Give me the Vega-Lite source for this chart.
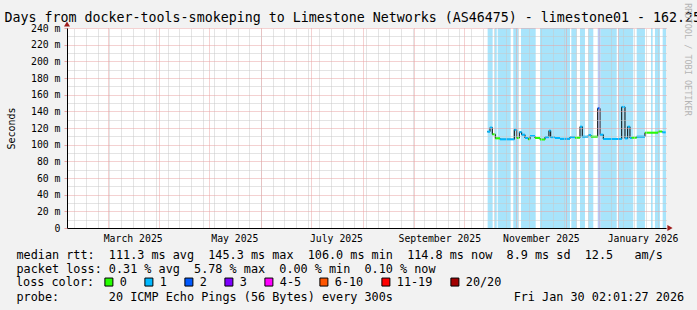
{
  "$schema": "https://vega.github.io/schema/vega-lite/v6.json",
  "width": 599,
  "height": 200,
  "autosize": {"type": "none"},
  "padding": {"left": 67, "top": 28, "right": 31, "bottom": 82},
  "background": "#f2f2f2",
  "config": {
    "view": {"fill": "white", "stroke": null},
    "font": "DejaVu Sans Mono",
    "axis": {"labelFont": "DejaVu Sans Mono", "titleFont": "DejaVu Sans Mono", "labelColor": "black", "titleColor": "black", "titleFontWeight": "normal"},
    "legend": {"labelFont": "DejaVu Sans Mono", "titleFont": "DejaVu Sans Mono"}
  },
  "datasets": {
    "median": [
      {"start": "2025-10-14T20:00", "end": "2025-10-16T11:00", "rtt": 115.6, "loss": "1"},
      {"start": "2025-10-16T11:00", "end": "2025-10-17T20:00", "rtt": 120.5, "loss": "1"},
      {"start": "2025-10-17T20:00", "end": "2025-10-19T15:00", "rtt": 112.4, "loss": "0"},
      {"start": "2025-10-19T15:00", "end": "2025-10-22T11:00", "rtt": 107.6, "loss": "0"},
      {"start": "2025-10-22T11:00", "end": "2025-10-31T01:00", "rtt": 106.4, "loss": "1"},
      {"start": "2025-10-31T01:00", "end": "2025-11-01T11:00", "rtt": 118.0, "loss": "1"},
      {"start": "2025-11-01T11:00", "end": "2025-11-03T01:00", "rtt": 108.0, "loss": "0"},
      {"start": "2025-11-03T01:00", "end": "2025-11-04T11:00", "rtt": 115.0, "loss": "1"},
      {"start": "2025-11-04T11:00", "end": "2025-11-06T11:00", "rtt": 112.0, "loss": "1"},
      {"start": "2025-11-06T11:00", "end": "2025-11-08T10:00", "rtt": 108.0, "loss": "1"},
      {"start": "2025-11-08T10:00", "end": "2025-11-09T11:00", "rtt": 106.4, "loss": "0"},
      {"start": "2025-11-09T11:00", "end": "2025-11-12T11:00", "rtt": 110.4, "loss": "1"},
      {"start": "2025-11-12T11:00", "end": "2025-11-15T11:00", "rtt": 108.0, "loss": "0"},
      {"start": "2025-11-15T11:00", "end": "2025-11-18T11:00", "rtt": 106.2, "loss": "0"},
      {"start": "2025-11-18T11:00", "end": "2025-11-20T20:00", "rtt": 109.0, "loss": "1"},
      {"start": "2025-11-20T20:00", "end": "2025-11-21T21:00", "rtt": 116.8, "loss": "1"},
      {"start": "2025-11-21T21:00", "end": "2025-11-24T11:00", "rtt": 109.0, "loss": "1"},
      {"start": "2025-11-24T11:00", "end": "2025-11-27T11:00", "rtt": 108.0, "loss": "1"},
      {"start": "2025-11-27T11:00", "end": "2025-12-03T11:00", "rtt": 107.0, "loss": "1"},
      {"start": "2025-12-03T11:00", "end": "2025-12-06T11:00", "rtt": 109.0, "loss": "1"},
      {"start": "2025-12-06T11:00", "end": "2025-12-09T11:00", "rtt": 108.4, "loss": "0"},
      {"start": "2025-12-09T11:00", "end": "2025-12-10T20:00", "rtt": 121.6, "loss": "1"},
      {"start": "2025-12-10T20:00", "end": "2025-12-14T11:00", "rtt": 109.6, "loss": "1"},
      {"start": "2025-12-14T11:00", "end": "2025-12-16T01:00", "rtt": 111.6, "loss": "1"},
      {"start": "2025-12-16T01:00", "end": "2025-12-20T02:00", "rtt": 109.6, "loss": "0"},
      {"start": "2025-12-20T02:00", "end": "2025-12-21T11:00", "rtt": 143.6, "loss": "2"},
      {"start": "2025-12-21T11:00", "end": "2025-12-23T11:00", "rtt": 112.0, "loss": "1"},
      {"start": "2025-12-23T11:00", "end": "2026-01-03T12:00", "rtt": 106.8, "loss": "1"},
      {"start": "2026-01-03T12:00", "end": "2026-01-05T11:00", "rtt": 145.3, "loss": "1"},
      {"start": "2026-01-05T11:00", "end": "2026-01-07T02:00", "rtt": 107.5, "loss": "1"},
      {"start": "2026-01-07T02:00", "end": "2026-01-08T11:00", "rtt": 121.6, "loss": "1"},
      {"start": "2026-01-08T11:00", "end": "2026-01-09T12:00", "rtt": 108.0, "loss": "1"},
      {"start": "2026-01-09T12:00", "end": "2026-01-12T12:00", "rtt": 108.4, "loss": "0"},
      {"start": "2026-01-12T12:00", "end": "2026-01-17T11:00", "rtt": 109.6, "loss": "1"},
      {"start": "2026-01-17T11:00", "end": "2026-01-25T11:00", "rtt": 114.4, "loss": "0"},
      {"start": "2026-01-25T11:00", "end": "2026-01-27T20:00", "rtt": 115.8, "loss": "0"},
      {"start": "2026-01-27T20:00", "end": "2026-01-29T22:00", "rtt": 114.8, "loss": "1"}
    ],
    "bands": [
      {"start": "2025-10-15T01:00", "end": "2025-10-18T01:00", "loss": "1"},
      {"start": "2025-10-19T07:00", "end": "2025-10-20T12:00", "loss": "1"},
      {"start": "2025-10-21T02:00", "end": "2025-10-28T21:00", "loss": "1"},
      {"start": "2025-10-30T10:00", "end": "2025-11-02T10:00", "loss": "1"},
      {"start": "2025-11-04T01:00", "end": "2025-11-12T21:00", "loss": "1"},
      {"start": "2025-11-15T11:00", "end": "2025-12-03T11:00", "loss": "1"},
      {"start": "2025-12-04T06:00", "end": "2025-12-07T11:00", "loss": "1"},
      {"start": "2025-12-09T11:00", "end": "2025-12-12T11:00", "loss": "1"},
      {"start": "2025-12-14T11:00", "end": "2025-12-17T11:00", "loss": "1"},
      {"start": "2025-12-20T02:00", "end": "2025-12-20T09:00", "loss": "1"},
      {"start": "2025-12-20T09:00", "end": "2025-12-21T20:00", "loss": "2"},
      {"start": "2025-12-21T20:00", "end": "2025-12-31T12:00", "loss": "1"},
      {"start": "2026-01-01T11:00", "end": "2026-01-10T11:00", "loss": "1"},
      {"start": "2026-01-12T12:00", "end": "2026-01-17T11:00", "loss": "1"},
      {"start": "2026-01-21T02:00", "end": "2026-01-22T02:00", "loss": "1"},
      {"start": "2026-01-23T11:00", "end": "2026-01-26T11:00", "loss": "1"},
      {"start": "2026-01-28T02:00", "end": "2026-01-30T02:00", "loss": "1"}
    ]
  },
  "layer": [
    {
      "data": {"name": "bands"},
      "mark": {"type": "rect"},
      "encoding": {
        "x": {
          "field": "start", "type": "temporal",
          "scale": {"domain": [{"year": 2025, "month": 2, "date": 4, "hours": 14}, {"year": 2026, "month": 1, "date": 30, "hours": 2, "minutes": 1}]},
          "axis": {
            "orient": "bottom", "tickCount": {"interval": "week", "step": 1},
            "labels": false, "ticks": false, "domain": false,
            "grid": true, "gridColor": "#c8c8c8", "gridDash": [1, 1], "gridWidth": 1, "zindex": 1,
            "title": "probe:\u00a0\u00a0\u00a0\u00a0\u00a0\u00a0\u00a020 ICMP Echo Pings (56 Bytes) every 300s\u00a0\u00a0\u00a0\u00a0\u00a0\u00a0\u00a0\u00a0\u00a0\u00a0\u00a0\u00a0\u00a0\u00a0\u00a0\u00a0\u00a0Fri Jan 30 02:01:27 2026",
            "titleX": -51, "titleY": 72, "titleAlign": "left", "titleAnchor": "start", "titleBaseline": "alphabetic", "titleFontSize": 11.8, "titleAngle": 0
          }
        },
        "x2": {"field": "end"},
        "color": {"field": "loss", "type": "nominal", "scale": {"domain": ["1", "2"], "range": ["#a8e4fb", "#b2bcf5"]}, "legend": null}
      }
    },
    {
      "data": {"name": "median"},
      "mark": {"type": "line", "interpolate": "step-after", "color": "black", "strokeWidth": 1},
      "encoding": {
        "x": {
          "field": "start", "type": "temporal",
          "axis": {
            "orient": "bottom", "tickCount": {"interval": "month", "step": 1},
            "labelExpr": "month(datum.value) % 2 == 0 ? timeFormat(datum.value, '%B %Y') : ''",
            "labelOffset": 25, "labelFlush": false, "labelOverlap": false, "labelFontSize": 9.8, "labelPadding": 5, "tickSize": 0, "ticks": false,
            "grid": true, "gridColor": "#e8a3a3", "gridDash": [1, 1], "gridWidth": 1,
            "domain": true, "domainColor": "black", "domainWidth": 1, "zindex": 1,
            "title": ["median rtt:\u00a0\u00a0111.3 ms avg\u00a0\u00a0145.3 ms max\u00a0\u00a0106.0 ms min\u00a0\u00a0114.8 ms now\u00a0\u00a08.9 ms sd\u00a0\u00a012.5\u00a0\u00a0\u00a0am/s", "packet loss: 0.31 % avg\u00a0\u00a05.78 % max\u00a0\u00a00.00 % min\u00a0\u00a00.10 % now"],
            "titleX": -51, "titleY": 30, "titleAlign": "left", "titleAnchor": "start", "titleBaseline": "alphabetic", "titleFontSize": 11.8, "titleLineHeight": 14, "titleAngle": 0
          }
        },
        "y": {
          "field": "rtt", "type": "quantitative",
          "scale": {"domain": [0, 240], "nice": false, "zero": true},
          "axis": {
            "orient": "left", "values": [0, 20, 40, 60, 80, 100, 120, 140, 160, 180, 200, 220, 240],
            "labelExpr": "datum.value == 0 ? '0\u00a0\u00a0' : datum.value + ' m'",
            "labelFontSize": 9.8, "labelPadding": 4, "tickSize": 3, "tickColor": "#e8a3a3",
            "grid": true, "gridColor": "#e8a3a3", "gridDash": [1, 1], "gridWidth": 1,
            "domain": true, "domainColor": "black", "domainWidth": 1, "zindex": 1,
            "title": "Seconds", "titleFontSize": 10, "titleAngle": -90, "titleX": -56, "titleY": 100, "titleAlign": "center", "titleBaseline": "middle"
          }
        }
      }
    },
    {
      "data": {"name": "median"},
      "mark": {"type": "rect", "yOffset": -1, "y2Offset": 1},
      "encoding": {
        "x": {"field": "start", "type": "temporal", "axis": null},
        "x2": {"field": "end"},
        "y": {
          "field": "rtt", "type": "quantitative",
          "axis": {
            "orient": "left", "values": [10, 30, 50, 70, 90, 110, 130, 150, 170, 190, 210, 230],
            "labels": false, "ticks": false, "domain": false, "title": null,
            "grid": true, "gridColor": "#c8c8c8", "gridDash": [1, 1], "gridWidth": 1, "zindex": 1
          }
        },
        "y2": {"field": "rtt"},
        "color": {
          "field": "loss", "type": "nominal",
          "scale": {"domain": ["0", "1", "2", "3", "4-5", "6-10", "11-19", "20/20"], "range": ["#26ff00", "#00b8ff", "#0059ff", "#7e00ff", "#ff00ff", "#ff5500", "#ff0000", "#a10000"]},
          "legend": {
            "title": "loss color:", "orient": "none", "legendX": -51, "legendY": 248, "direction": "horizontal",
            "titleOrient": "left", "titleFontSize": 11.8, "titleFontWeight": "normal", "titleColor": "black", "titlePadding": 8,
            "labelFontSize": 11.8, "labelColor": "black", "labelOffset": 5, "columnPadding": 15, "padding": 0,
            "symbolType": "square", "symbolSize": 64, "symbolStrokeColor": "black", "symbolStrokeWidth": 1, "symbolOpacity": 1,
            "encode": {"symbols": {"update": {"stroke": {"value": "black"}, "strokeWidth": {"value": 1}}}}
          }
        }
      }
    },
    {
      "data": {"values": [{}]},
      "mark": {"type": "point", "shape": "triangle-up", "filled": true, "color": "#9e1c1c", "opacity": 1, "size": 36, "yOffset": -4},
      "encoding": {
        "x": {
          "datum": {"year": 2025, "month": 2, "date": 4, "hours": 14}, "type": "temporal",
          "axis": {
            "orient": "top", "labels": false, "ticks": false, "domain": false, "grid": false,
            "title": "Days from docker-tools-smokeping to Limestone Networks (AS46475) - limestone01 - 162.25",
            "titleX": -63, "titleY": -7, "titleAlign": "left", "titleAnchor": "start", "titleBaseline": "alphabetic", "titleFontSize": 13.3, "titleAngle": 0
          }
        },
        "y": {
          "datum": 240, "type": "quantitative",
          "axis": {
            "orient": "right", "labels": false, "ticks": false, "domain": false, "grid": false,
            "title": "RRDTOOL / TOBI OETIKER", "titleAngle": 90, "titleX": 21, "titleY": 31, "titleAlign": "center", "titleBaseline": "middle",
            "titleFontSize": 8.5, "titleColor": "#b4b4b4"
          }
        }
      }
    },
    {
      "data": {"values": [{}]},
      "mark": {"type": "point", "shape": "triangle-right", "filled": true, "color": "#9e1c1c", "opacity": 1, "size": 36, "xOffset": 4},
      "encoding": {
        "x": {"datum": {"year": 2026, "month": 1, "date": 30, "hours": 2, "minutes": 1}, "type": "temporal", "axis": null},
        "y": {"datum": 0, "type": "quantitative", "axis": null}
      }
    }
  ],
  "resolve": {"scale": {"color": "independent"}, "axis": {"x": "independent", "y": "independent"}}
}
